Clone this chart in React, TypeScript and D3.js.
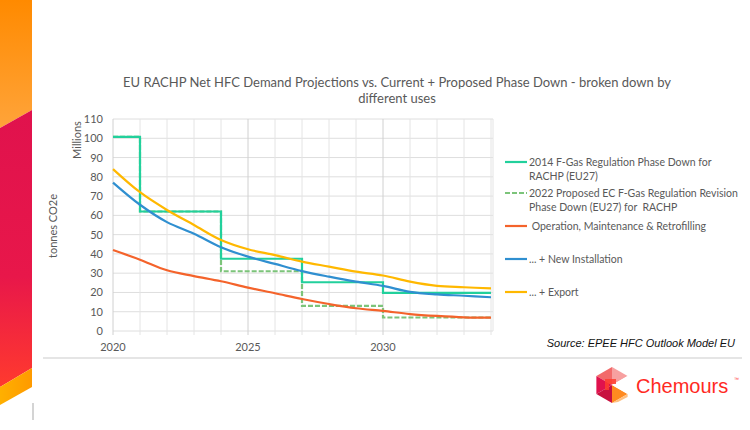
import React from "react";
import * as d3 from "d3";

const years = [2020, 2021, 2022, 2023, 2024, 2025, 2026, 2027, 2028, 2029, 2030, 2031, 2032, 2033, 2034];
const omr = [42, 37, 31.5, 28.5, 25.8, 22.5, 19.6, 16.6, 14, 11.8, 10.4, 8.8, 7.8, 7.1, 6.9];
const newInst = [77, 65.5, 56.5, 50.5, 43.5, 38.6, 34.8, 31.1, 28.2, 25.6, 23.4, 20.3, 19, 18.3, 17.5];
const exportV = [84, 72, 62.8, 55, 47.2, 42.4, 39.4, 36, 33.4, 30.8, 28.8, 25.6, 23.4, 22.7, 22.1];

const stepYears = [2020, 2021, 2024, 2027, 2030, 2034];
const phase2014 = [100.7, 62, 37.5, 25.3, 19.8, 19.8];
const phase2022 = [100.7, 62, 31, 13, 7, 7];

const yTicks = [0, 10, 20, 30, 40, 50, 60, 70, 80, 90, 100, 110];
const xTickLabels = [2020, 2025, 2030];

const title1 = "EU RACHP Net HFC Demand Projections vs. Current + Proposed Phase Down - broken down by";
const title2 = "different uses";

const legendItems = [
  { lines: ["2014 F-Gas Regulation Phase Down for", "RACHP (EU27)"], color: "#22d09c", dash: "", y: 162 },
  { lines: ["2022 Proposed EC F-Gas Regulation Revision", "Phase Down (EU27) for  RACHP"], color: "#7cc47a", dash: "5,2", y: 193 },
  { lines: [" Operation, Maintenance & Retrofilling"], color: "#f4632b", dash: "", y: 226 },
  { lines: ["... + New Installation"], color: "#2f8fd0", dash: "", y: 259 },
  { lines: ["... + Export"], color: "#ffb800", dash: "", y: 292 },
];

const FONT = "Lato, 'Open Sans', sans-serif";

export default function App() {
  const x = d3.scaleLinear().domain([2020, 2034]).range([113, 491]);
  const y = d3.scaleLinear().domain([0, 110]).range([331, 119]);

  const curve = d3
    .line<number>()
    .x((_, i) => x(years[i]))
    .y((d) => y(d))
    .curve(d3.curveCatmullRom.alpha(0.5));

  const step = d3
    .line<number>()
    .x((_, i) => x(stepYears[i]))
    .y((d) => y(d))
    .curve(d3.curveStepAfter);

  const minorYears = d3.range(2020, 2035);

  return (
    <svg width={750} height={430} style={{ position: "absolute", left: 0, top: 0, background: "#fff" }}>
      <defs>
        <linearGradient id="gTop" x1="0" y1="0" x2="0" y2="1">
          <stop offset="0" stopColor="#ff8a00" />
          <stop offset="1" stopColor="#ffa43a" />
        </linearGradient>
        <linearGradient id="gMid" x1="0" y1="0" x2="0" y2="1">
          <stop offset="0" stopColor="#e0124d" />
          <stop offset="0.6" stopColor="#e8174a" />
          <stop offset="1" stopColor="#ff3a2e" />
        </linearGradient>
        <linearGradient id="gBot" x1="0" y1="0" x2="1" y2="0">
          <stop offset="0" stopColor="#ffb000" />
          <stop offset="1" stopColor="#ff9a00" />
        </linearGradient>
      </defs>

      {/* left decorative band */}
      <polygon points="0,0 32,0 32,110 0,128" fill="url(#gTop)" />
      <polygon points="0,128 32,110 32,368 0,387" fill="url(#gMid)" />
      <polygon points="0,387 32,368 32,387 0,405" fill="url(#gBot)" />
      <line x1={33} x2={33} y1={403} y2={420} stroke="#b8b8b8" strokeWidth={1.2} />

      {/* title */}
      <text x={397} y={87} textAnchor="middle" fontFamily={FONT} fontSize={13} fill="#595959">
        {title1}
      </text>
      <text x={397} y={103} textAnchor="middle" fontFamily={FONT} fontSize={13} fill="#595959">
        {title2}
      </text>

      {/* gridlines */}
      {yTicks.map((t) => (
        <line key={"h" + t} x1={x(2020)} x2={x(2034) + 2} y1={y(t)} y2={y(t)} stroke="#dedede" strokeWidth={1} />
      ))}
      {minorYears.map((yr) => (
        <line
          key={"v" + yr}
          x1={x(yr)}
          x2={x(yr)}
          y1={y(110)}
          y2={y(0) + 4}
          stroke={yr % 5 === 0 ? "#d0d0d0" : "#e4e4e4"}
          strokeWidth={1}
        />
      ))}
      <line x1={x(2034) + 2} x2={x(2034) + 2} y1={y(110)} y2={y(0)} stroke="#e4e4e4" />

      {/* y tick labels */}
      {yTicks.map((t) => (
        <text key={"yl" + t} x={103} y={y(t) + 4} textAnchor="end" fontFamily={FONT} fontSize={11} fill="#595959">
          {t}
        </text>
      ))}
      {xTickLabels.map((t) => (
        <text key={"xl" + t} x={x(t)} y={351} textAnchor="middle" fontFamily={FONT} fontSize={11} fill="#595959">
          {t}
        </text>
      ))}

      {/* axis titles */}
      <text transform="translate(81,140) rotate(-90)" textAnchor="middle" fontFamily={FONT} fontSize={11} fill="#595959">
        Millions
      </text>
      <text transform="translate(57,226) rotate(-90)" textAnchor="middle" fontFamily={FONT} fontSize={11} fill="#595959">
        tonnes CO2e
      </text>

      {/* series */}
      <path d={step(phase2022) || ""} fill="none" stroke="#7cc47a" strokeWidth={2.2} strokeDasharray="5,2" />
      <path d={step(phase2014) || ""} fill="none" stroke="#22d09c" strokeWidth={2.2} />
      <path d={curve(omr) || ""} fill="none" stroke="#f4632b" strokeWidth={2.2} />
      <path d={curve(newInst) || ""} fill="none" stroke="#2f8fd0" strokeWidth={2.2} />
      <path d={curve(exportV) || ""} fill="none" stroke="#ffb800" strokeWidth={2.2} />

      {/* legend */}
      {legendItems.map((it) => (
        <g key={it.lines[0]}>
          <line x1={505} x2={527} y1={it.y} y2={it.y} stroke={it.color} strokeWidth={2.2} strokeDasharray={it.dash || undefined} />
          {it.lines.map((ln, j) => (
            <text
              key={j}
              x={529}
              y={it.y + 4 + j * 14}
              fontFamily={FONT}
              fontSize={10.5}
              fill="#595959"
              style={{ whiteSpace: "pre" }}
            >
              {ln}
            </text>
          ))}
        </g>
      ))}

      {/* source */}
      <text x={735} y={347} textAnchor="end" fontFamily="'Liberation Sans', Arial, sans-serif" fontStyle="italic" fontSize={11} fill="#111">
        Source: EPEE HFC Outlook Model EU
      </text>
      <line x1={43} x2={742} y1={358} y2={358} stroke="#dcdcdc" strokeWidth={1.5} />

      {/* Chemours logo */}
      <g transform="translate(612,385)">
        <polygon points="0,-18 15.6,-9 0,0" fill="#f7a0a0" />
        <polygon points="0,-18 -15.6,-9 0,0" fill="#f26a6a" />
        <polygon points="-15.6,-9 -15.6,9 0,0" fill="#e0124d" />
        <polygon points="-15.6,9 0,18 0,0" fill="#c8103f" />
        <polygon points="0,18 15.6,9 0,0" fill="#ff8a20" />
        <polygon points="0,0 15.6,-9 15.6,9" fill="#ffffff" />
        <polygon points="-7,-6 4,-6 4,-1 -3,-1 -3,5 -7,5" fill="#ff3d2e" opacity={0.85} />
        <polygon points="15.6,9 15.6,12 6,17 0,18" fill="#ffc080" />
      </g>
      <text x={636} y={393} fontFamily="'Liberation Sans', Arial, sans-serif" fontSize={20} fill="#ff2a1f">
        Chemours
      </text>
      <text x={734} y={381} fontFamily="'Liberation Sans', Arial, sans-serif" fontSize={5} fill="#ff2a1f">
        ™
      </text>
    </svg>
  );
}
